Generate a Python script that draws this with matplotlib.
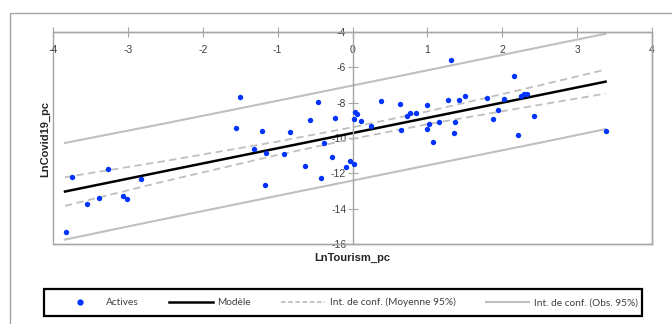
import matplotlib.pyplot as plt
from matplotlib.lines import Line2D
from matplotlib.patches import Rectangle

plt.rcParams['font.family'] = ['Liberation Sans Narrow', 'Liberation Sans', 'DejaVu Sans']

# observations (LnTourism_pc, LnCovid19_pc)
tourism = [-3.83, -3.75, -3.54, -3.39, -3.26, -3.06, -3.01, -2.83,
           -1.50, -1.55, -1.31, -1.21, -1.16, -1.17, -0.91, -0.84,
           -0.46, -0.57, -0.24, 0.03, 0.06, 0.02, 0.12, 0.25, 0.38,
           0.64, 0.65, 0.73, 0.77, 0.85, -0.38, -0.28, -0.64, -0.42,
           -0.09, -0.03, 0.02,
           0.99, 1.02, 1.00, 1.07, 1.16, 1.31, 1.28, 1.42, 1.50, 1.37,
           1.36, 1.80, 1.94, 1.87, 2.02, 2.16, 2.25, 2.29, 2.33, 2.21,
           2.42, 3.39]
covid = [-15.34, -12.21, -13.72, -13.41, -11.74, -13.30, -13.43, -12.32,
         -7.66, -9.42, -10.64, -9.59, -10.87, -12.68, -10.92, -9.64,
         -7.96, -9.00, -8.89, -8.53, -8.62, -8.94, -9.05, -9.30, -7.89,
         -8.07, -9.53, -8.77, -8.60, -8.58, -10.28, -11.09, -11.60, -12.25,
         -11.66, -11.32, -11.49,
         -8.13, -9.21, -9.51, -10.23, -9.11, -5.57, -7.85, -7.85, -7.60, -9.11,
         -9.70, -7.72, -8.43, -8.94, -7.79, -6.49, -7.60, -7.49, -7.49, -9.81,
         -8.75, -9.59]

# model and confidence bands read along the x axis
band_x = [-3.84, -2.5, -1.0, 0.0, 1.0, 2.5, 3.38]
model = [-13.03, -11.87, -10.58, -9.72, -8.86, -7.57, -6.81]
mean_up = [-12.22, -11.30, -10.20, -9.39, -8.50, -7.02, -6.13]
mean_lo = [-13.84, -12.44, -10.96, -10.05, -9.22, -8.12, -7.49]
obs_up = [-10.28, -9.17, -7.89, -7.03, -6.17, -4.86, -4.10]
obs_lo = [-15.75, -14.57, -13.27, -12.41, -11.55, -10.27, -9.50]

x_ticks = [-4, -3, -2, -1, 0, 1, 2, 3, 4]
y_ticks = [-4, -6, -8, -10, -12, -14, -16]

blue = '#0033FF'
frame_gray = '#A6A6A6'
band_gray = '#BFBFBF'
text_gray = '#404040'

fig = plt.figure(figsize=(6.72, 3.24), dpi=100)
ax = fig.add_axes([53 / 672, 1 - 244 / 324, 599 / 672, 212 / 324])

ax.plot(band_x, obs_up, color=band_gray, lw=1.5)
ax.plot(band_x, obs_lo, color=band_gray, lw=1.5)
ax.plot(band_x, mean_up, color=band_gray, lw=1.3, ls=(0, (4, 2.5)))
ax.plot(band_x, mean_lo, color=band_gray, lw=1.3, ls=(0, (4, 2.5)))
ax.plot(band_x, model, color='black', lw=1.8)
ax.scatter(tourism, covid, s=15, color=blue, zorder=5, linewidths=0)

ax.set_xlim(-4, 4)
ax.set_ylim(-16, -4)

for side in ['top', 'bottom', 'right']:
    ax.spines[side].set_color(frame_gray)
    ax.spines[side].set_linewidth(1)
ax.spines['left'].set_position(('data', 0))
ax.spines['left'].set_color(frame_gray)
ax.spines['left'].set_linewidth(1)
# border of the plot area
ax.add_patch(Rectangle((0, 0), 1, 1, transform=ax.transAxes, fill=False,
                       edgecolor=frame_gray, lw=1, clip_on=False, zorder=0))

ax.xaxis.set_ticks_position('top')
ax.set_xticks(x_ticks)
ax.set_xticklabels([str(t) for t in x_ticks])
ax.tick_params(axis='x', direction='inout', length=7, color=frame_gray,
               labelsize=7.5, labelcolor=text_gray, pad=-13)
for lab in ax.get_xticklabels():
    lab.set_va('top')

ax.set_yticks(y_ticks)
ax.set_yticklabels([str(t) for t in y_ticks])
ax.tick_params(axis='y', direction='inout', length=7, color=frame_gray,
               labelsize=7.5, labelcolor=text_gray, pad=1)

ax.text(0.5, -0.068, 'LnTourism_pc', transform=ax.transAxes, ha='center',
        va='center', fontsize=8, fontweight='bold', color='#262626')
ax.text(-0.013, 0.495, 'LnCovid19_pc', transform=ax.transAxes, ha='center',
        va='center', rotation=90, fontsize=8, fontweight='bold', color='#262626')

# outer chart border (cut by the image edge)
fig.patches.append(Rectangle((10 / 672, -0.5), 2, 0.5 + 1 - 13 / 324,
                             transform=fig.transFigure, fill=False,
                             edgecolor=frame_gray, lw=1))

# legend frame
fig.patches.append(Rectangle((44 / 672, 1 - 316 / 324), 598 / 672, 27 / 324,
                             transform=fig.transFigure, fill=False,
                             edgecolor='black', lw=1.6))

handles = [
    Line2D([0], [0], marker='o', color='w', markerfacecolor=blue,
           markeredgewidth=0, markersize=4.5, label='Actives'),
    Line2D([0], [0], color='black', lw=1.8, label='Modèle'),
    Line2D([0], [0], color=band_gray, lw=1.3, ls=(0, (2.5, 1.5)),
           label='Int. de conf. (Moyenne 95%)'),
    Line2D([0], [0], color=band_gray, lw=1.5, label='Int. de conf. (Obs. 95%)'),
]
leg = fig.legend(handles=handles, ncol=4, loc='center',
                 bbox_to_anchor=(58 / 672, 8 / 324, 580 / 672, 27 / 324),
                 mode='expand', frameon=False, handlelength=4.3,
                 handletextpad=0.45, borderaxespad=0, borderpad=0,
                 prop={'family': 'Lato', 'size': 7.3})
for t in leg.get_texts():
    t.set_color(text_gray)

plt.savefig('out.png', dpi=100)
